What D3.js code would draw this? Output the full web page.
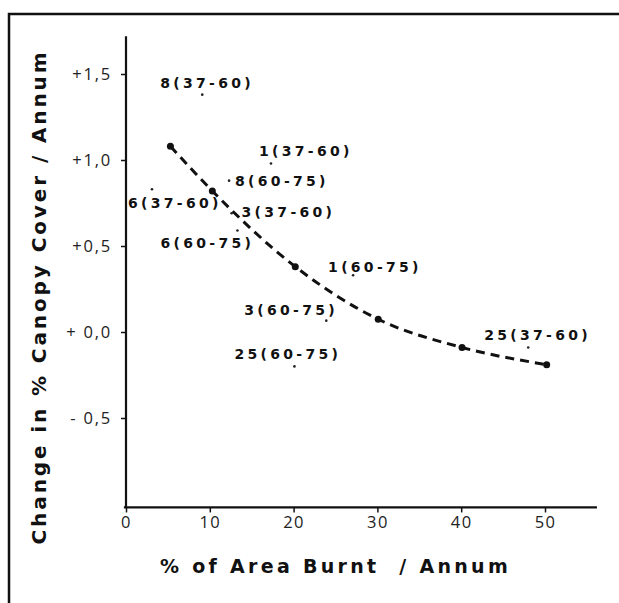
<!DOCTYPE html>
<html>
<head>
<meta charset="utf-8">
<script src="https://cdn.jsdelivr.net/npm/d3@7"></script>
<style>
  html, body { margin: 0; padding: 0; background: #fff; }
  svg { display: block; }
  .pt-label { font-family: "DejaVu Sans", sans-serif; font-weight: bold; font-size: 14px; letter-spacing: 3.3px; fill: #111; }
  .tick text { font-family: "Open Sans", "Liberation Sans", sans-serif; font-weight: 400; fill: #222; }
  .title { font-family: "DejaVu Sans", sans-serif; font-weight: bold; fill: #111; white-space: pre; }
</style>
</head>
<body>
<div id="chart"></div>
<script>
/* ── data ─────────────────────────────────────────── */
// fitted curve (large dots, dashed line)
const curveBurnt  = [5.3, 10.3, 20.2, 30.1, 40.1, 50.2];
const curveChange = [1.08, 0.82, 0.38, 0.074, -0.09, -0.19];

// individual plots (small dots with labels)
const plotLabels = ["8(37-60)", "1(37-60)", "8(60-75)", "6(37-60)", "3(37-60)",
                    "6(60-75)", "1(60-75)", "3(60-75)", "25(60-75)", "25(37-60)"];
const plotBurnt  = [9.1, 17.3, 12.3, 3.1, 12.6, 13.3, 27.1, 23.9, 20.1, 48.0];
const plotChange = [1.38, 0.98, 0.88, 0.83, 0.69, 0.59, 0.33, 0.066, -0.20, -0.09];

// axis ticks
const xTicks = [0, 10, 20, 30, 40, 50];
const yTicks = [1.5, 1.0, 0.5, 0.0, -0.5];
const yTickLabels = ["+1,5", "+1,0", "+0,5", "+ 0,0", "- 0,5"];

/* ── layout ───────────────────────────────────────── */
const W = 619, H = 603;
// label placement relative to its dot: [dx to left edge, dy to text centre]
const labelOffsets = [[-42, -12], [-12, -12], [6, 0], [-24, 14], [10, -1],
                      [-77, 12], [-25, -8], [-82, -11], [-60, -12], [-44, -12]];

const x = d3.scaleLinear().domain([0, 50]).range([126, 545]);
const y = d3.scaleLinear().domain([-0.5, 1.5]).range([418, 74]);

const svg = d3.select("#chart").append("svg")
  .attr("width", W).attr("height", H);

// outer frame (top and left edges only visible)
svg.append("path")
  .attr("d", `M9,${H} L9,14 L${W},14`)
  .attr("fill", "none").attr("stroke", "#111").attr("stroke-width", 2.5);

// axes
const yAxis = svg.append("g").attr("transform", `translate(${x(0)},0)`)
  .call(d3.axisLeft(y).tickValues(yTicks).tickSize(5).tickPadding(9)
    .tickFormat((d, i) => yTickLabels[i]));
yAxis.select(".domain").remove();
yAxis.selectAll(".tick line").attr("stroke", "#111").attr("stroke-width", 1.5);
yAxis.selectAll("text").attr("font-size", "16.5px").attr("letter-spacing", "1.8px");

const xAxis = svg.append("g").attr("transform", `translate(0,${y(-1.02)})`)
  .call(d3.axisBottom(x).tickValues(xTicks).tickSize(5).tickPadding(4));
xAxis.select(".domain").remove();
xAxis.selectAll(".tick line").attr("stroke", "#111").attr("stroke-width", 1.5);
xAxis.selectAll("text").attr("font-size", "16.5px").attr("letter-spacing", "1.4px");

svg.append("line")
  .attr("x1", x(0)).attr("x2", x(0))
  .attr("y1", y(1.72)).attr("y2", y(-1.02))
  .attr("stroke", "#111").attr("stroke-width", 2.2);
svg.append("line")
  .attr("x1", x(-0.25)).attr("x2", x(56.2))
  .attr("y1", y(-1.02)).attr("y2", y(-1.02))
  .attr("stroke", "#111").attr("stroke-width", 2.2);

// dashed fitted curve
const curvePts = curveBurnt.map((b, i) => [b, curveChange[i]]);
const line = d3.line().x(d => x(d[0])).y(d => y(d[1])).curve(d3.curveMonotoneX);
svg.append("path")
  .datum(curvePts)
  .attr("d", line)
  .attr("fill", "none").attr("stroke", "#111")
  .attr("stroke-width", 3).attr("stroke-dasharray", "9,6");

svg.selectAll(".cdot").data(curvePts).join("circle")
  .attr("class", "cdot")
  .attr("cx", d => x(d[0])).attr("cy", d => y(d[1]))
  .attr("r", 3.5).attr("fill", "#111");

// labelled plots
const plots = plotLabels.map((l, i) => ({ label: l, b: plotBurnt[i], c: plotChange[i], off: labelOffsets[i] }));

svg.selectAll(".pdot").data(plots).join("circle")
  .attr("class", "pdot")
  .attr("cx", d => x(d.b)).attr("cy", d => y(d.c))
  .attr("r", 1.3).attr("fill", "#222");

svg.selectAll(".pt-label").data(plots).join("text")
  .attr("class", "pt-label")
  .attr("x", d => x(d.b) + d.off[0])
  .attr("y", d => y(d.c) + d.off[1] + 5)
  .text(d => d.label);

// axis titles
svg.append("text").attr("class", "title")
  .attr("x", 160).attr("y", 573)
  .attr("font-size", "19px").attr("letter-spacing", "3.3px")
  .text("% of Area Burnt  / Annum");

svg.append("text").attr("class", "title")
  .attr("transform", "translate(46,297) rotate(-90)")
  .attr("text-anchor", "middle")
  .attr("font-size", "20px").attr("letter-spacing", "2.9px")
  .text("Change in % Canopy Cover / Annum");
</script>
</body>
</html>
